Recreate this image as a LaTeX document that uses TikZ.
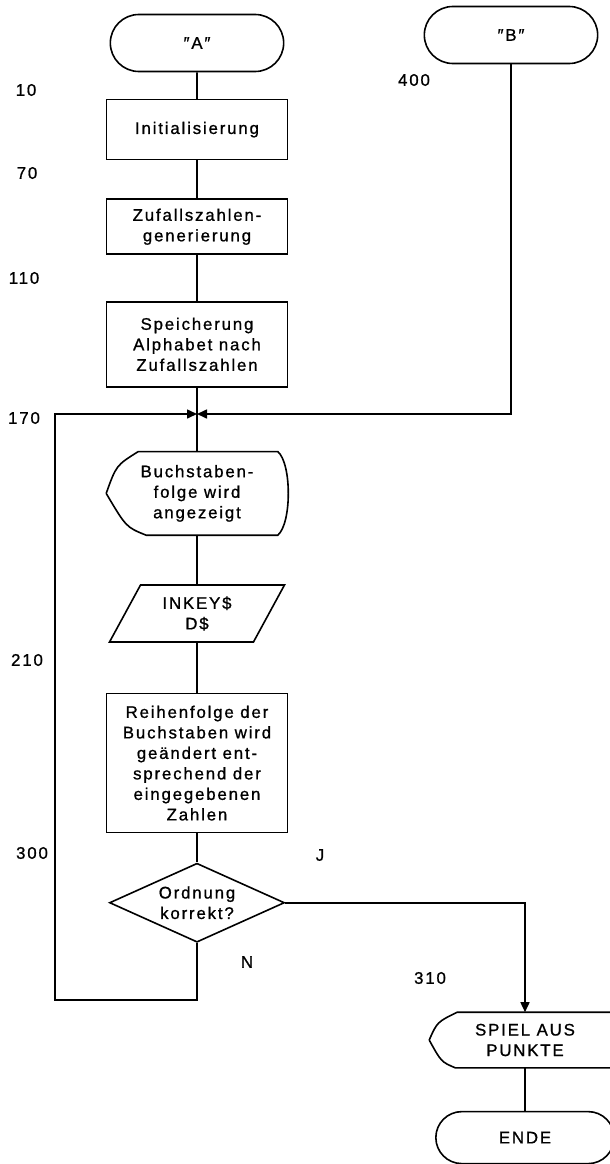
\documentclass[tikz,border=0pt]{standalone}
\usepackage{fontspec}
\setmainfont{Liberation Sans}[LetterSpace=11, FakeBold=1]
\usetikzlibrary{positioning}
\usetikzlibrary{arrows.meta}
\usetikzlibrary{shapes.geometric, shapes.misc}

\begin{document}
\begin{tikzpicture}[
  x=1pt, y=-1pt,
  line width=1.6pt,
  font=\fontsize{16.8}{20.5}\selectfont,
  terminal/.style={rounded rectangle, draw, minimum width=180pt, minimum height=57pt},
  process/.style={rectangle, draw, minimum width=181pt, align=center},
  anzeige/.style={rectangle, align=center},
  eingabe/.style={trapezium, trapezium left angle=63, trapezium right angle=117, trapezium stretches=true, draw, minimum width=175pt, minimum height=57pt, align=center},
  frage/.style={diamond, draw, aspect=2.2, minimum width=175pt, minimum height=79pt, inner sep=0pt, align=center},
  pfeil/.style={-{Triangle[length=10pt,width=9pt]}}
]
\useasboundingbox (0,0) rectangle (610,1164);
\clip (0,0) rectangle (610,1164);

% Programmteil "A"
\node[terminal] (startA) at (197,43) {″A″};
\node[process, minimum height=60pt, below=26.5pt of startA] (init) {Initialisierung};
\node[process, minimum height=55pt, below=38pt of init] (zufall) {Zufallszahlen-\\generierung};
\node[process, minimum height=85pt, below=46pt of zufall] (speicher) {Speicherung\\Alphabet nach\\Zufallszahlen};
\coordinate (merge) at (197,414);
\node[anzeige, minimum width=180pt, minimum height=82pt, below=64pt of speicher] (anz) {Buchstaben-\\folge wird\\angezeigt};
\node[eingabe, below=49pt of anz] (inkey) {INKEY\$\\D\$};
\node[process, minimum height=139pt, below=50pt of inkey] (reihen) {Reihenfolge der\\Buchstaben wird\\geändert ent-\\sprechend der\\eingegebenen\\Zahlen};
\node[frage, below=29pt of reihen] (ordnung) {Ordnung\\korrekt?};

% Programmteil "B" und Ende
\node[terminal] (startB) at (511,35) {″B″};
\node[anzeige, minimum width=190pt, minimum height=54pt] (spiel) at (525,1040) {SPIEL AUS\\PUNKTE};
\node[terminal, minimum width=185pt, minimum height=52pt, below=43pt of spiel] (ende) {ENDE};
\coordinate (rueck) at (55,1000);

% Umrisse der Anzeige-Symbole
\draw (anz.west) .. controls +(10,-28) .. ([xshift=32pt]anz.north west)
  -- ([xshift=-10pt]anz.north east)
  .. controls +(14,12) and +(14,-12) .. ([xshift=-10pt]anz.south east)
  -- ([xshift=40pt]anz.south west)
  .. controls +(-20,-8) .. (anz.west);
\draw (spiel.west) .. controls +(8,-18) .. ([xshift=28pt]spiel.north west)
  -- ([xshift=-10pt]spiel.north east)
  .. controls +(14,10) and +(14,-10) .. ([xshift=-10pt]spiel.south east)
  -- ([xshift=26pt]spiel.south west)
  .. controls +(-14,-6) .. (spiel.west);

% Zeilennummern
\node (z10) at (26,90) {10};
\node (z70) at (27,173) {70};
\node (z110) at (24,278) {110};
\node (z170) at (24,418) {170};
\node (z210) at (27,660) {210};
\node (z300) at (32,853) {300};
\node (z400) at (414,80) {400};
\node (z310) at (430,978) {310};
\node (ja) at (320,855) {J};
\node (nein) at (247,962) {N};

% Verbindungen
\draw (startA) -- (init);
\draw (init) -- (zufall);
\draw (zufall) -- (speicher);
\draw (speicher) -- (anz);
\draw (anz) -- (inkey);
\draw (inkey) -- (reihen);
\draw (reihen) -- (ordnung);
\draw[pfeil] (ordnung.east) -| (spiel.north);
\draw[pfeil] (ordnung.south) |- (rueck) |- (merge);
\draw[pfeil] (startB.south) |- (merge);
\draw (spiel) -- (ende);

\end{tikzpicture}
\end{document}
